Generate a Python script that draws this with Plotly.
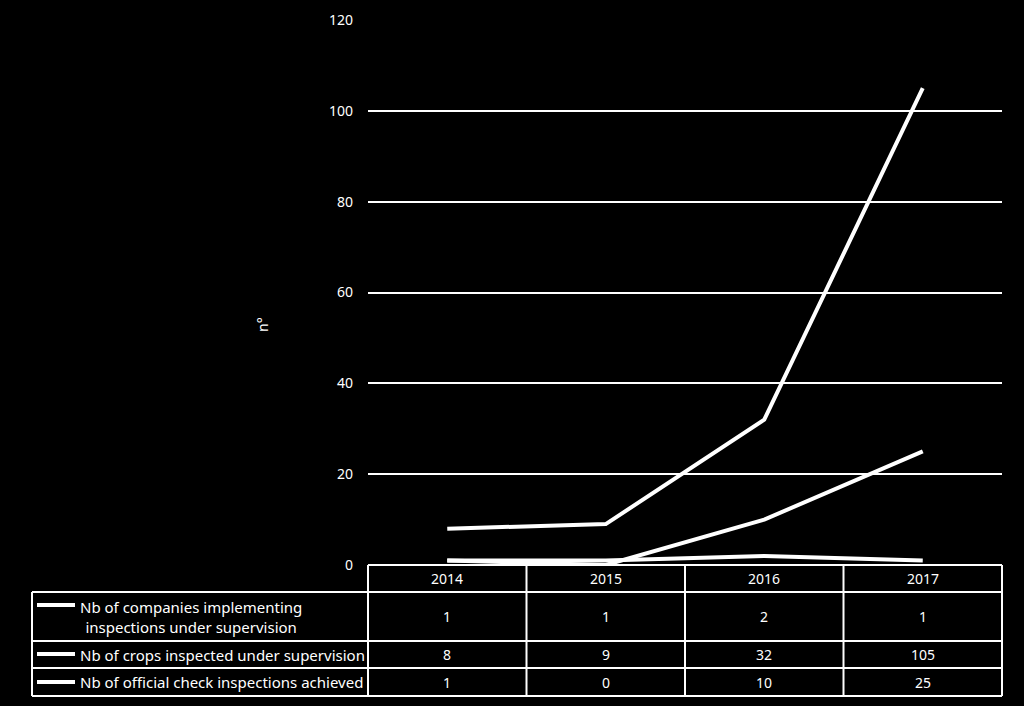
import plotly.graph_objects as go

# ---- data ----
years = ["2014", "2015", "2016", "2017"]
companies = [1, 1, 2, 1]
crops = [8, 9, 32, 105]
official = [1, 0, 10, 25]
series_names = [
    "Nb of companies implementing<br>inspections under supervision",
    "Nb of crops inspected under supervision",
    "Nb of official check inspections achieved",
]
series_values = [companies, crops, official]
y_ticks = [0, 20, 40, 60, 80, 100, 120]

W, H = 1024, 706
FONT = "Noto Sans"


def xp(px):
    return px / W


def yp(py):
    return 1 - py / H


fig = go.Figure()
for name, vals in zip(series_names, series_values):
    fig.add_trace(go.Scatter(
        x=years, y=vals, mode="lines", name=name.replace("<br>", " "),
        line=dict(color="white", width=4), showlegend=False,
    ))

# plot area geometry (pixels)
PL, PR, PT, PB = 368, 1002, 20, 565
fig.update_layout(
    template="none",
    width=W, height=H,
    paper_bgcolor="black", plot_bgcolor="black",
    margin=dict(l=0, r=0, t=0, b=0, pad=0),
    font=dict(family=FONT, color="white", size=14),
    xaxis=dict(domain=[xp(PL), xp(PR)], type="category", range=[-0.5, 3.5],
               showticklabels=False, showgrid=False, zeroline=False, showline=False,
               automargin=False, ticks=""),
    yaxis=dict(domain=[yp(PB), yp(PT)], range=[0, 120], tickvals=y_ticks,
               showgrid=True, gridcolor="white", gridwidth=2, zeroline=False,
               showline=False, ticks="", ticklabelstandoff=14, automargin=False,
               tickfont=dict(size=14, color="white", family=FONT)),
)

shapes = []
annotations = []
LW = 2
# table grid
col_edges = [368, 526.5, 685, 843.5, 1002]
row_edges = [565, 592, 641, 668, 696]
LEFT = 32
shapes.append(dict(type="line", xref="paper", yref="paper", x0=xp(368), x1=xp(1002),
                   y0=yp(565), y1=yp(565), line=dict(color="white", width=LW)))
for r in row_edges[1:]:
    shapes.append(dict(type="line", xref="paper", yref="paper", x0=xp(LEFT), x1=xp(1002),
                       y0=yp(r), y1=yp(r), line=dict(color="white", width=LW)))
for c in col_edges:
    shapes.append(dict(type="line", xref="paper", yref="paper", x0=xp(c), x1=xp(c),
                       y0=yp(565), y1=yp(696), line=dict(color="white", width=LW)))
shapes.append(dict(type="line", xref="paper", yref="paper", x0=xp(LEFT), x1=xp(LEFT),
                   y0=yp(592), y1=yp(696), line=dict(color="white", width=LW)))

# header
for i, yr in enumerate(years):
    annotations.append(dict(x=i, xref="x", y=yp(578.5), yref="paper", text=yr,
                            xanchor="center", yanchor="middle",
                            showarrow=False, font=dict(size=14, color="white")))
# rows
row_centers = [616.5, 654.5, 682]
sample_y = [605, 654, 682]
for name, vals, yc, sy in zip(series_names, series_values, row_centers, sample_y):
    for i, v in enumerate(vals):
        annotations.append(dict(x=i, xref="x", y=yp(yc), yref="paper", text=str(v),
                                xanchor="center", yanchor="middle",
                                showarrow=False, font=dict(size=14, color="white")))
    shapes.append(dict(type="line", xref="paper", yref="paper", x0=xp(37), x1=xp(75),
                       y0=yp(sy), y1=yp(sy), line=dict(color="white", width=4)))
    annotations.append(dict(x=xp(78), xref="paper", y=yp(yc), yref="paper", text=name,
                            xanchor="left", yanchor="middle", align="center",
                            showarrow=False, font=dict(size=15, color="white")))

# y-axis title
annotations.append(dict(x=xp(262), xref="paper", y=yp(325), yref="paper", text="n°",
                        xanchor="center", yanchor="middle",
                        textangle=-90, showarrow=False, font=dict(size=14, color="white")))

fig.update_layout(shapes=shapes, annotations=annotations)
fig.write_html("out.html")
